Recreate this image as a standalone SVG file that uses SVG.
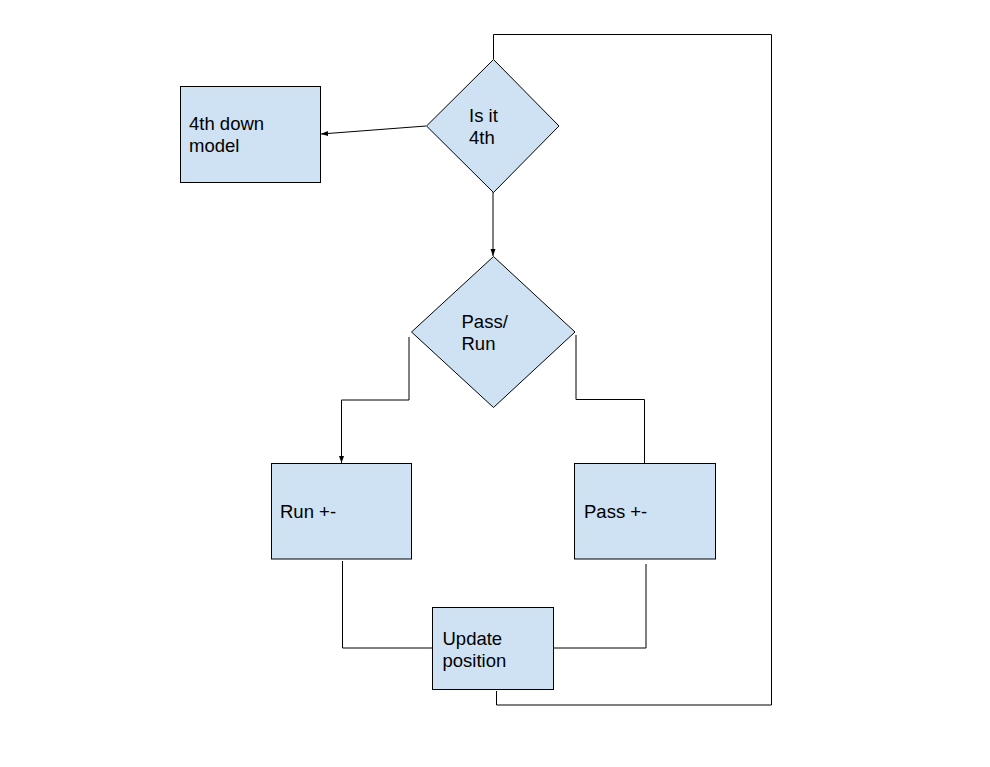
<svg xmlns="http://www.w3.org/2000/svg" width="990" height="767" viewBox="0 0 990 767">
<style>
.n{fill:#cfe2f3;stroke:#000;stroke-width:1}
.c{fill:none;stroke:#000;stroke-width:1}
text{font-family:"Liberation Sans",Arial,sans-serif;font-size:18.5px;fill:#000}
</style>
<defs>
<marker id="ah" markerWidth="8" markerHeight="8" refX="7" refY="4" orient="auto" markerUnits="userSpaceOnUse">
<path d="M0,1.5 L7,4 L0,6.5 Z" fill="#000"/>
</marker>
</defs>
<rect width="990" height="767" fill="#fff"/>
<g id="connectors">
<path class="c" d="M426,126 L321,134" marker-end="url(#ah)"/>
<path class="c" d="M493,192 L493,256" marker-end="url(#ah)"/>
<path class="c" d="M409,337 L409,400 L341.5,400 L341.5,463" marker-end="url(#ah)"/>
<path class="c" d="M576,335 L576,399.5 L644.5,399.5 L644.5,463"/>
<path class="c" d="M342.5,561 L342.5,648 L432,648"/>
<path class="c" d="M646,564 L646,648 L554,648"/>
<path class="c" d="M496.5,691 L496.5,705 L771.5,705 L771.5,34.5 L493.5,34.5 L493.5,59"/>
</g>
<g id="n_4thdown">
<rect class="n" x="180.5" y="86.5" width="140" height="96"/>
<text x="189" y="130">4th down</text>
<text x="189" y="152">model</text>
</g>
<g id="n_isit4th">
<polygon class="n" points="493.5,59.5 559,126 493.5,192.5 426.5,126"/>
<text x="469" y="122">Is it</text>
<text x="469" y="144">4th</text>
</g>
<g id="n_passrun">
<polygon class="n" points="493.5,256.5 575,332 493.5,407.5 411.5,332"/>
<text x="461.5" y="327.5">Pass/</text>
<text x="461.5" y="349.5">Run</text>
</g>
<g id="n_run">
<rect class="n" x="271.5" y="463.5" width="140" height="95.5"/>
<text x="280" y="518">Run +-</text>
</g>
<g id="n_pass">
<rect class="n" x="574.5" y="463.5" width="141" height="95.5"/>
<text x="584" y="518">Pass +-</text>
</g>
<g id="n_update">
<rect class="n" x="432.5" y="607.5" width="121" height="82"/>
<text x="442.5" y="645">Update</text>
<text x="442.5" y="667">position</text>
</g>
</svg>
